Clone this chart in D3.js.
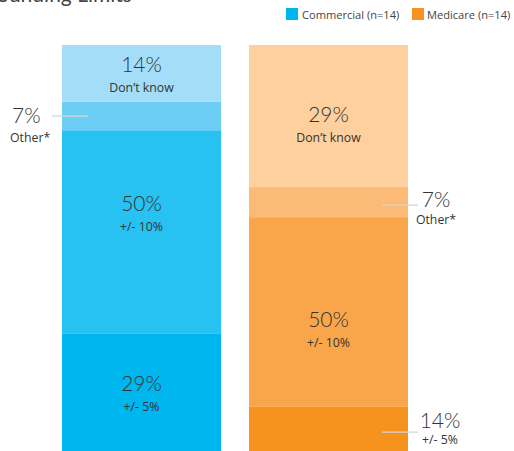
<!DOCTYPE html>
<html><head><meta charset="utf-8">
<script src="https://cdn.jsdelivr.net/npm/d3@7"></script>
<style>
body{margin:0;background:#fff;}
svg{display:block;font-family:Lato,"Open Sans",sans-serif;}
.small{font-family:"Open Sans",Lato,sans-serif;}
</style></head>
<body>
<svg id="c" width="514" height="451"></svg>
<script>
// ---- data (stacked bottom to top) ----
const categories = ["Commercial (n=14)", "Medicare (n=14)"];
const segmentNames = ["bottom", "middle", "other", "dontknow"];
// drawn segment sizes (percent of bar height)
const commercialValues = [29, 50, 7, 14];
const medicareValues = [11, 46.6, 7.4, 35];
// printed labels
const commercialLabels = ["29%", "50%", "7%", "14%"];
const medicareLabels = ["14%", "50%", "7%", "29%"];
const subLabels = ["+/- 5%", "+/- 10%", "Other*", "Don\u2019t know"];
const commercialColors = ["#00b6ef", "#27c2f1", "#6dcef5", "#a3ddf8"];
const medicareColors = ["#f6921e", "#f9a64b", "#fbba75", "#fdd09e"];
const titleText = "ounding Limits";

const svg = d3.select("#c");
const x = d3.scaleBand().domain(categories).range([62, 408]).paddingInner(28/187).paddingOuter(0);
const y = d3.scaleLinear().domain([0, 100]).range([451, 45]);

// title (cropped at top, as in the source)
svg.append("text").attr("x", -3).attr("y", 2).attr("font-size", 21)
  .attr("fill", "#444").text(titleText);

// legend
const legend = [{name: categories[0], color: "#00b5ef", x: 286, tx: 302},
                {name: categories[1], color: "#f7931e", x: 412, tx: 427}];
legend.forEach(l => {
  svg.append("rect").attr("x", l.x).attr("y", 8).attr("width", 12).attr("height", 12).attr("fill", l.color);
  svg.append("text").attr("class", "small").attr("x", l.tx).attr("y", 18.5).attr("font-size", 11.1)
    .attr("fill", "#444").text(l.name);
});

const series = [
  {cat: categories[0], values: commercialValues, labels: commercialLabels, colors: commercialColors},
  {cat: categories[1], values: medicareValues, labels: medicareLabels, colors: medicareColors}
];

series.forEach((s, si) => {
  let cum = 0;
  const segs = s.values.map((v, i) => { const d = {y0: cum, y1: cum + v, i}; cum += v; return d; });
  const g = svg.append("g");
  g.selectAll("rect").data(segs).join("rect")
    .attr("x", x(s.cat)).attr("width", x.bandwidth())
    .attr("y", d => y(d.y1)).attr("height", d => y(d.y0) - y(d.y1))
    .attr("fill", d => s.colors[d.i]);

  segs.forEach(d => {
    const mid = (y(d.y0) + y(d.y1)) / 2;
    const cx = x(s.cat) + x.bandwidth() / 2;
    let outside = d.i === 2 || (si === 1 && d.i === 0);
    let tx, anchor, by, sub = 20;
    if (!outside) {
      tx = cx; anchor = "middle";
      by = mid - 1.5;
      if (d.i === 1) by = si === 0 ? y(d.y1) + 81 : y(d.y1) + 110;
      if (si === 1 && d.i === 3) by = mid + 6;
    } else {
      if (si === 0) {
        tx = 12; anchor = "start"; by = mid + 7; sub = 19;
        g.append("line").attr("x1", 52).attr("x2", x(s.cat) + 26).attr("y1", mid).attr("y2", mid)
          .attr("stroke", "#d4d4d4").attr("stroke-width", 1.2);
      } else {
        tx = d.i === 2 ? 436 : 440; anchor = "middle";
        by = d.i === 2 ? mid + 5 : mid - 0.5;
        sub = d.i === 2 ? 17 : 16;
        g.append("line").attr("x1", x(s.cat) + 133).attr("x2", 418)
          .attr("y1", d.i === 2 ? mid + 3 : mid + 3.5).attr("y2", d.i === 2 ? mid + 3 : mid + 3.5)
          .attr("stroke", "#d4d4d4").attr("stroke-width", 1.2);
      }
    }
    g.append("text").attr("x", tx).attr("y", by).attr("text-anchor", anchor)
      .attr("font-size", 21).attr("font-weight", 300).attr("fill", "#333").text(s.labels[d.i]);
    const sx = (outside && si === 0) ? 10 : tx;
    g.append("text").attr("class", "small").attr("x", sx).attr("y", by + sub).attr("text-anchor", anchor)
      .attr("font-size", 12.3).attr("fill", "#333").text(subLabels[d.i]);
  });
});
</script>
</body></html>
